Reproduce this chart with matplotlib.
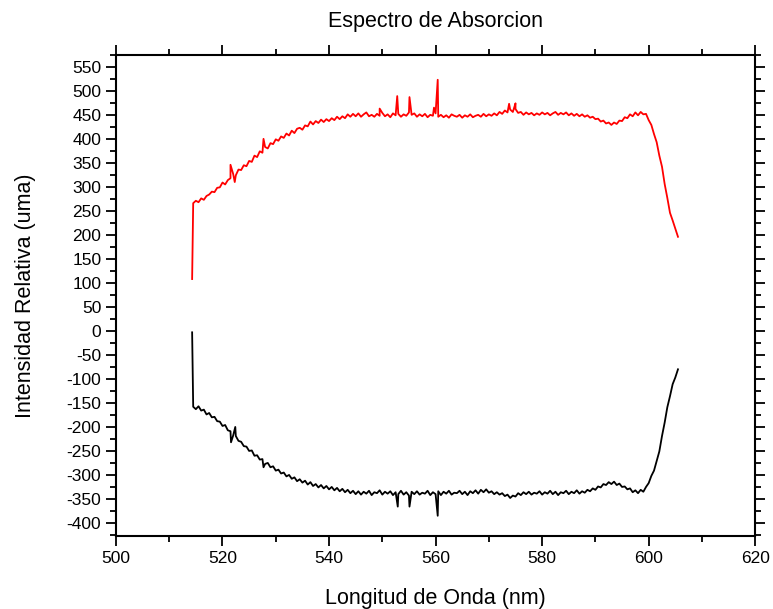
import matplotlib
matplotlib.use("Agg")
import matplotlib.pyplot as plt
import numpy as np
from matplotlib.ticker import MultipleLocator

plt.rcParams["font.family"] = ["Liberation Sans", "DejaVu Sans"]
plt.rcParams["axes.unicode_minus"] = False

# wavelength grid of the spectra (nm), 0.5 nm step
wl = np.arange(514.5, 605.51, 0.5)

# upper spectrum (red)
red = [
    266, 271, 268, 276, 273, 281, 284, 290, 289, 298,
    299, 309, 305, 314, 318, 327, 324, 336, 335, 345,
    343, 354, 352, 365, 362, 374, 371, 383, 380, 391,
    389, 399, 396, 405, 402, 411, 407, 417, 412, 421,
    423, 419, 428, 426, 436, 430, 437, 433, 440, 435,
    441, 437, 443, 439, 446, 441, 447, 443, 451, 446,
    452, 447, 453, 446, 451, 455, 447, 450, 446, 452,
    448, 454, 447, 451, 445, 453, 449, 452, 446, 451,
    448, 455, 450, 453, 446, 451, 447, 452, 445, 450,
    448, 453, 446, 450, 445, 449, 444, 451, 448, 446,
    450, 444, 449, 446, 451, 445, 448, 450, 446, 452,
    447, 451, 448, 453, 449, 456, 452, 459, 455, 461,
    456, 462, 454, 456, 450, 455, 451, 454, 449, 453,
    450, 455, 451, 454, 449, 453, 456, 450, 454, 451,
    455, 449, 453, 448, 452, 447, 451, 446, 449, 444,
    446, 441, 442, 436, 438, 432, 434, 429, 434, 431,
    438, 437, 445, 443, 451, 447, 455, 449, 456, 451,
    452, 439, 429, 410, 393, 365, 342, 306, 277, 246,
    230, 213, 196,
]

# lower spectrum (black)
black = [
    -158, -163, -157, -166, -164, -174, -171, -180, -179, -188,
    -189, -198, -196, -207, -209, -218, -219, -229, -231, -240,
    -241, -250, -249, -260, -259, -268, -267, -277, -275, -284,
    -282, -291, -289, -297, -295, -303, -300, -308, -305, -313,
    -309, -316, -312, -320, -315, -323, -319, -326, -321, -328,
    -323, -330, -325, -332, -327, -334, -329, -336, -331, -338,
    -333, -340, -334, -341, -335, -339, -333, -342, -336, -338,
    -332, -341, -335, -339, -334, -342, -336, -340, -333, -341,
    -336, -343, -335, -340, -334, -341, -337, -339, -333, -342,
    -336, -340, -334, -342, -335, -339, -333, -341, -337, -338,
    -333, -340, -335, -342, -334, -338, -332, -339, -331, -336,
    -330, -337, -334, -340, -336, -341, -338, -344, -341, -348,
    -343, -345, -338, -342, -336, -340, -335, -341, -337, -339,
    -334, -341, -336, -339, -333, -340, -335, -342, -336, -338,
    -333, -340, -335, -338, -332, -339, -334, -337, -331, -334,
    -328, -331, -324, -326, -319, -321, -315, -319, -314, -321,
    -318, -325, -324, -330, -328, -336, -332, -338, -331, -335,
    -325, -317, -302, -291, -271, -251, -219, -191, -159, -136,
    -111, -97, -80,
]

# isolated points (start of the scan and narrow spikes)
red_spike_wl = [514.3, 521.5, 522.3, 527.7, 549.5, 552.8, 555.1, 559.7, 560.4, 573.8, 575.0]
red_spike_val = [108, 346, 310, 400, 463, 489, 487, 465, 523, 473, 474]
black_spike_wl = [514.3, 521.6, 522.4, 527.7, 552.9, 555.1, 560.4]
black_spike_val = [-3, -232, -200, -284, -366, -366, -385]


def merge(x, y, sx, sy):
    xs = np.concatenate([x, sx])
    ys = np.concatenate([y, sy])
    order = np.argsort(xs)
    return xs[order], ys[order]


fig = plt.figure(figsize=(7.73, 6.09), dpi=100)
ax = fig.add_axes([0.150, 0.120, 0.827, 0.790])

rx, ry = merge(wl, np.array(red, float), red_spike_wl, red_spike_val)
bx, by = merge(wl, np.array(black, float), black_spike_wl, black_spike_val)
ax.plot(rx, ry, color="#ff0000", lw=1.3)
ax.plot(bx, by, color="#000000", lw=1.3)

ax.set_xlim(500, 620)
ax.set_ylim(-427, 575)
ax.xaxis.set_major_locator(MultipleLocator(20))
ax.xaxis.set_minor_locator(MultipleLocator(10))
ax.yaxis.set_major_locator(MultipleLocator(50))
ax.yaxis.set_minor_locator(MultipleLocator(25))
ax.tick_params(which="both", direction="out", top=True, right=True,
               labeltop=False, labelright=False, width=1.3, labelsize=12.5)
ax.tick_params(which="major", length=7)
ax.tick_params(which="minor", length=4)
for s in ax.spines.values():
    s.set_linewidth(1.5)

ax.set_title("Espectro de Absorcion", fontsize=15.5, pad=20)
ax.set_xlabel("Longitud de Onda (nm)", fontsize=15.5, labelpad=16)
ax.set_ylabel("Intensidad Relativa (uma)", fontsize=15.5, labelpad=22)

fig.savefig("out.png", dpi=100)
